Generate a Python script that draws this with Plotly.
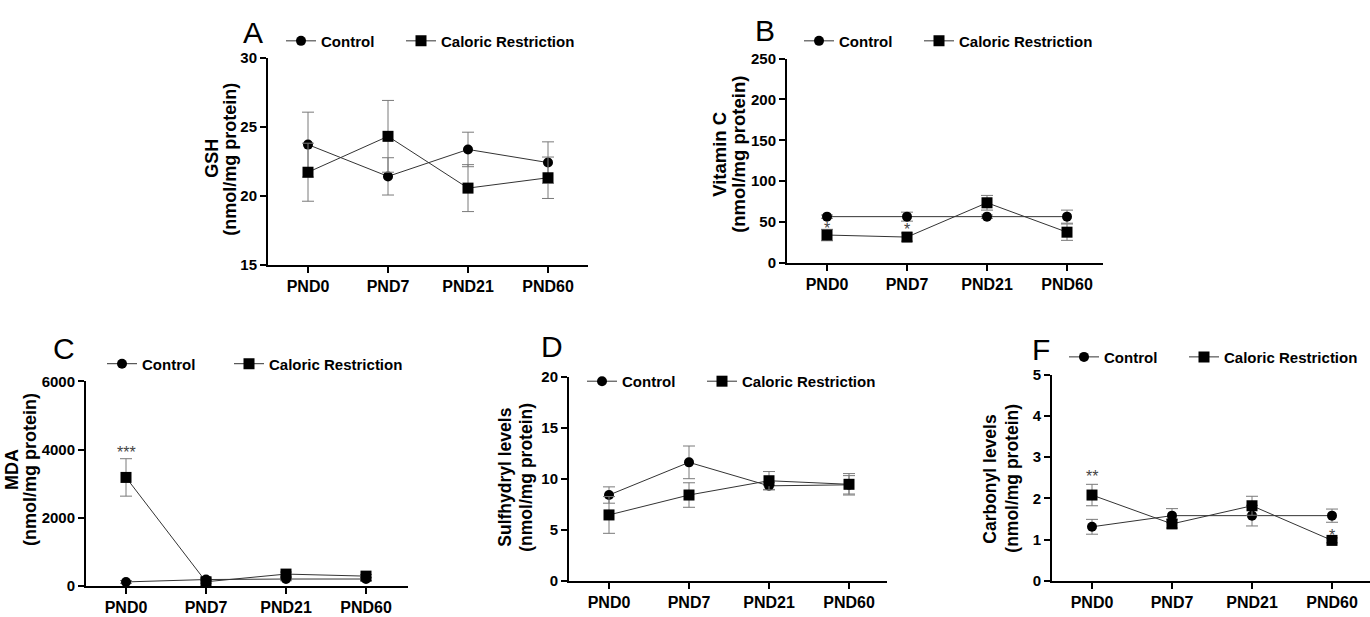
import plotly.graph_objects as go

W, H = 1370, 617

days = ["PND0", "PND7", "PND21", "PND60"]
series_names = ["Control", "Caloric Restriction"]

# GSH (nmol/mg protein)
gsh_ctrl = [23.7, 21.4, 23.35, 22.4]
gsh_ctrl_sem = [2.35, 1.35, 1.25, 1.5]
gsh_cr = [21.7, 24.3, 20.55, 21.3]
gsh_cr_sem = [2.1, 2.6, 1.7, 1.5]

# Vitamin C (nmol/mg protein)
vitc_ctrl = [56.5, 56.5, 56.5, 56.5]
vitc_ctrl_sem = [2.0, 5.5, 2.0, 8.0]
vitc_cr = [34.0, 31.5, 73.5, 37.5]
vitc_cr_sem = [7.0, 5.0, 9.0, 10.0]

# MDA (nmol/mg protein)
mda_ctrl = [110, 180, 195, 195]
mda_ctrl_sem = [40, 40, 50, 50]
mda_cr = [3180, 115, 340, 280]
mda_cr_sem = [550, 40, 60, 50]

# Sulfhydryl levels (nmol/mg protein)
sh_ctrl = [8.4, 11.6, 9.3, 9.4]
sh_ctrl_sem = [0.8, 1.6, 0.35, 0.9]
sh_cr = [6.45, 8.4, 9.8, 9.45]
sh_cr_sem = [1.8, 1.2, 0.9, 1.05]

# Carbonyl levels (nmol/mg protein)
carb_ctrl = [1.31, 1.58, 1.58, 1.58]
carb_ctrl_sem = [0.18, 0.17, 0.25, 0.16]
carb_cr = [2.08, 1.38, 1.82, 0.98]
carb_cr_sem = [0.26, 0.10, 0.23, 0.06]

# significance marks: (panel, category, y position, text)
sig_marks = [
    ("B", "PND0", 42.5, "*"),
    ("B", "PND7", 41, "*"),
    ("C", "PND0", 3900, "***"),
    ("F", "PND0", 2.52, "**"),
    ("F", "PND60", 1.11, "*"),
]

FONT = "Liberation Sans"
UNIT = "(nmol/mg protein)"

# plotting area in pixels (left, right, top, bottom), legend anchors, panel letters,
# and the two y-title line centres (x1, x2, y)
panels = [
    dict(key="A", ctrl=gsh_ctrl, ctrl_e=gsh_ctrl_sem, cr=gsh_cr, cr_e=gsh_cr_sem,
         yr=[15, 30], dt=5, label="GSH", tsize=18, ysize=15,
         box=(268, 588, 50, 263), leg=(287, 407, 33), letter=(253, 24),
         tpos=(212, 230, 154)),
    dict(key="B", ctrl=vitc_ctrl, ctrl_e=vitc_ctrl_sem, cr=vitc_cr, cr_e=vitc_cr_sem,
         yr=[0, 250], dt=50, label="Vitamin C", tsize=18.5, ysize=15,
         box=(787, 1103, 51, 261), leg=(805, 925, 33), letter=(765, 22),
         tpos=(720, 739, 150)),
    dict(key="C", ctrl=mda_ctrl, ctrl_e=mda_ctrl_sem, cr=mda_cr, cr_e=mda_cr_sem,
         yr=[0, 6000], dt=2000, label="MDA", tsize=18, ysize=15,
         box=(86, 408, 383, 593), leg=(108, 235, 365), letter=(64, 349),
         tpos=(12, 30, 474)),
    dict(key="D", ctrl=sh_ctrl, ctrl_e=sh_ctrl_sem, cr=sh_cr, cr_e=sh_cr_sem,
         yr=[0, 20], dt=5, label="Sulfhydryl levels", tsize=17.5, ysize=15,
         box=(569, 887, 378, 588), leg=(588, 708, 383), letter=(552, 347),
         tpos=(505, 526, 482)),
    dict(key="F", ctrl=carb_ctrl, ctrl_e=carb_ctrl_sem, cr=carb_cr, cr_e=carb_cr_sem,
         yr=[0, 5], dt=1, label="Carbonyl levels", tsize=17.5, ysize=15,
         box=(1052, 1370, 376, 588), leg=(1070, 1190, 358), letter=(1041, 350),
         tpos=(990, 1012, 483)),
]

fig = go.Figure()
legend_font = dict(family=FONT, size=15, color="black", weight=700)

leg_count = 0
for i, p in enumerate(panels):
    n = "" if i == 0 else str(i + 1)
    xa, ya = "x" + n, "y" + n
    l, r, t, b = p["box"]
    step = 80.0  # pixels per category
    x_end = -0.5 + (r - l) / step

    series = [
        (series_names[0], p["ctrl"], p["ctrl_e"], "circle", 10, p["leg"][0]),
        (series_names[1], p["cr"], p["cr_e"], "square", 11, p["leg"][1]),
    ]
    for name, ys, es, sym, size, lx in series:
        leg_count += 1
        leg = "legend" if leg_count == 1 else "legend%d" % leg_count
        fig.add_trace(go.Scatter(
            x=days, y=ys, name=name, mode="lines+markers",
            xaxis=xa, yaxis=ya, legend=leg,
            line=dict(color="#333333", width=1),
            marker=dict(symbol=sym, size=size, color="black"),
            error_y=dict(type="data", array=es, visible=True,
                         color="#7a7a7a", thickness=1, width=6),
            cliponaxis=False,
        ))
        fig.layout[leg] = dict(
            orientation="h", x=(lx - 6) / W, y=1 - p["leg"][2] / H,
            xanchor="left", yanchor="middle", xref="paper", yref="paper",
            font=legend_font, bgcolor="rgba(0,0,0,0)", borderwidth=0,
            itemwidth=30,
        )

    fig.layout["xaxis" + n] = dict(
        domain=[l / W, r / W], anchor=ya, type="category",
        categoryorder="array", categoryarray=days, range=[-0.5, x_end],
        showline=True, linecolor="black", linewidth=2, showgrid=False,
        zeroline=False, ticks="outside", ticklen=6, tickwidth=1.5,
        tickcolor="black", fixedrange=True,
        tickfont=dict(family=FONT, size=16, color="black", weight=700),
    )
    fig.layout["yaxis" + n] = dict(
        domain=[1 - b / H, 1 - t / H], anchor=xa, range=p["yr"],
        tickmode="linear", tick0=p["yr"][0], dtick=p["dt"],
        showline=True, linecolor="black", linewidth=2, showgrid=False,
        zeroline=False, ticks="outside", ticklen=6, tickwidth=1.5,
        tickcolor="black", fixedrange=True,
        tickfont=dict(family=FONT, size=p["ysize"], color="black", weight=700),
    )

    # two-line y title with tight leading
    tfont = dict(family=FONT, size=p["tsize"], color="black", weight=700)
    x1, x2, yc = p["tpos"]
    for txt, xc in [(p["label"], x1), (UNIT, x2)]:
        fig.add_annotation(
            text=txt, xref="paper", yref="paper", x=xc / W, y=1 - yc / H,
            xanchor="center", yanchor="middle", textangle=-90,
            showarrow=False, font=tfont,
        )

    fig.add_annotation(
        text=p["key"], xref="paper", yref="paper",
        x=p["letter"][0] / W, y=1 - p["letter"][1] / H,
        xanchor="center", yanchor="middle", showarrow=False,
        font=dict(family=FONT, size=30, color="black"),
    )

panel_axes = {p["key"]: ("" if i == 0 else str(i + 1)) for i, p in enumerate(panels)}
for key, cat, yv, txt in sig_marks:
    n = panel_axes[key]
    fig.add_annotation(
        text=txt, x=cat, y=yv, xref="x" + n, yref="y" + n,
        showarrow=False, yanchor="middle",
        font=dict(family=FONT, size=16, color="#444444"),
    )

fig.update_layout(
    width=W, height=H, margin=dict(l=0, r=0, t=0, b=0),
    paper_bgcolor="white", plot_bgcolor="white",
    showlegend=True,
)

fig.write_html("out.html", config={"displayModeBar": False})
